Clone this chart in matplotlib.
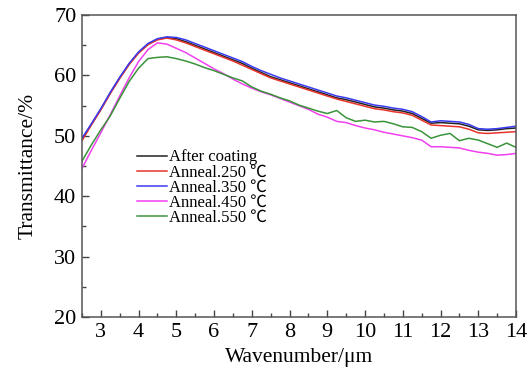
import matplotlib
matplotlib.use("Agg")
import matplotlib.pyplot as plt
from matplotlib.ticker import MultipleLocator

plt.rcParams["font.family"] = ["Liberation Serif", "Noto Sans CJK SC", "DejaVu Serif"]

# wavelength grid (um)
wavenumber = [2.5, 2.75, 3.0, 3.25, 3.5, 3.75, 4.0, 4.25, 4.5, 4.75, 5.0, 5.25,
              5.5, 5.75, 6.0, 6.25, 6.5, 6.75, 7.0, 7.25, 7.5, 7.75, 8.0, 8.25,
              8.5, 8.75, 9.0, 9.25, 9.5, 9.75, 10.0, 10.25, 10.5, 10.75, 11.0,
              11.25, 11.5, 11.75, 12.0, 12.25, 12.5, 12.75, 13.0, 13.25, 13.5,
              13.75, 14.0]

after_coating = [49.4, 51.9, 54.4, 57.1, 59.6, 61.9, 63.8, 65.2, 66.0, 66.3, 66.1, 65.6,
                 65.0, 64.4, 63.8, 63.2, 62.6, 62.0, 61.2, 60.5, 59.8, 59.3, 58.8, 58.3,
                 57.8, 57.3, 56.8, 56.3, 56.0, 55.6, 55.2, 54.8, 54.6, 54.3, 54.1,
                 53.7, 52.9, 52.1, 52.2, 52.1, 52.0, 51.6, 51.0, 50.9, 51.0,
                 51.2, 51.3]

anneal_250 = [49.2, 51.8, 54.3, 57.0, 59.5, 61.8, 63.7, 65.1, 65.9, 66.2, 65.9, 65.4,
              64.8, 64.2, 63.6, 63.0, 62.4, 61.7, 61.0, 60.3, 59.6, 59.1, 58.6, 58.1,
              57.6, 57.1, 56.6, 56.1, 55.7, 55.3, 54.9, 54.5, 54.3, 54.0, 53.8,
              53.4, 52.6, 51.8, 51.7, 51.6, 51.5, 51.1, 50.5, 50.4, 50.5,
              50.6, 50.7]

anneal_350 = [49.6, 52.0, 54.5, 57.2, 59.7, 62.0, 63.9, 65.3, 66.1, 66.4, 66.3, 65.9,
              65.3, 64.7, 64.1, 63.5, 62.9, 62.3, 61.5, 60.8, 60.2, 59.6, 59.1, 58.6,
              58.1, 57.6, 57.1, 56.6, 56.3, 55.9, 55.5, 55.1, 54.9, 54.6, 54.4,
              54.0, 53.2, 52.3, 52.5, 52.4, 52.3, 51.9, 51.2, 51.1, 51.2,
              51.4, 51.6]

anneal_450 = [44.6, 47.6, 50.5, 53.5, 56.6, 59.6, 62.3, 64.3, 65.4, 65.2, 64.5, 63.8,
              62.9, 62.0, 61.1, 60.3, 59.4, 58.6, 57.9, 57.3, 56.8, 56.2, 55.6, 55.0,
              54.4, 53.6, 53.1, 52.4, 52.2, 51.7, 51.3, 51.0, 50.6, 50.3, 50.0,
              49.7, 49.3, 48.2, 48.2, 48.1, 48.0, 47.6, 47.3, 47.1, 46.8,
              46.9, 47.1]

anneal_550 = [45.8, 48.5, 51.0, 53.3, 56.2, 59.0, 61.2, 62.8, 63.0, 63.1, 62.8, 62.4,
              61.9, 61.3, 60.8, 60.2, 59.6, 59.1, 58.1, 57.4, 56.9, 56.3, 55.8, 55.1,
              54.6, 54.1, 53.7, 54.2, 53.0, 52.4, 52.6, 52.3, 52.4, 52.0, 51.5,
              51.4, 50.7, 49.6, 50.1, 50.4, 49.2, 49.6, 49.3, 48.7, 48.1,
              48.8, 48.1]

series = [
    ("After coating", after_coating, "#222222"),
    ("Anneal.250 ℃", anneal_250, "#e8342c"),
    ("Anneal.350 ℃", anneal_350, "#3a3af0"),
    ("Anneal.450 ℃", anneal_450, "#f040f0"),
    ("Anneal.550 ℃", anneal_550, "#3a943a"),
]

fig = plt.figure(figsize=(5.32, 3.69), dpi=100)
ax = fig.add_axes([0.154, 0.141, 0.816, 0.818])

for label, values, color in series:
    ax.plot(wavenumber, values, color=color, lw=1.1, label=label)

ax.set_xlim(2.5, 14)
ax.set_ylim(20, 70)
ax.xaxis.set_major_locator(MultipleLocator(1))
ax.xaxis.set_minor_locator(MultipleLocator(0.5))
ax.yaxis.set_major_locator(MultipleLocator(10))
ax.yaxis.set_minor_locator(MultipleLocator(5))
ax.tick_params(which="both", direction="in", color="#444444", labelsize=16, width=1)
ax.tick_params(which="major", length=5, pad=4)
ax.tick_params(which="minor", length=3)
for sp in ax.spines.values():
    sp.set_color("#555555")
    sp.set_linewidth(1.1)

ax.set_xlabel("Wavenumber/μm", fontsize=15.5, labelpad=5)
ax.set_ylabel("Transmittance/%", fontsize=15.5, labelpad=12)

ax.legend(loc="upper left", bbox_to_anchor=(0.128, 0.555), frameon=False,
          fontsize=12, handlelength=1.8, handletextpad=0.1, labelspacing=-0.05,
          borderpad=0, borderaxespad=0)

fig.savefig("out.png", dpi=100)
